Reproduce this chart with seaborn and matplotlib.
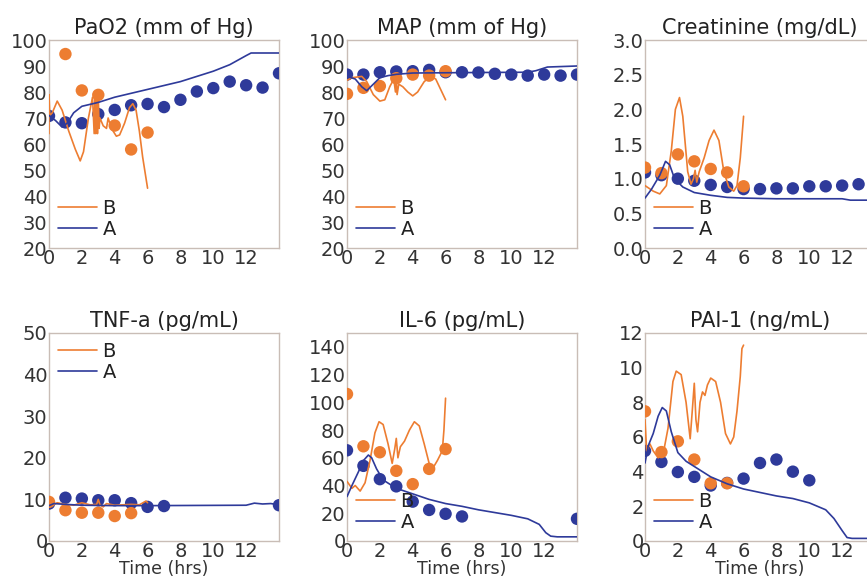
import numpy as np
import pandas as pd
import matplotlib
matplotlib.use("Agg")
import matplotlib.pyplot as plt
import seaborn as sns

sns.set_style("white")
plt.rcParams['font.family'] = ['DejaVu Sans']

ORANGE = "#ED7D31"
BLUE = "#2E3A9A"

titles = ["PaO2 (mm of Hg)", "MAP (mm of Hg)", "Creatinine (mg/dL)",
          "TNF-a (pg/mL)", "IL-6 (pg/mL)", "PAI-1 (ng/mL)"]
ylims = [(20, 100), (20, 100), (0, 3), (0, 50), (0, 150), (0, 12)]
yticks = [list(range(20, 101, 10)), list(range(20, 101, 10)),
          [0.0, 0.5, 1.0, 1.5, 2.0, 2.5, 3.0], list(range(0, 51, 10)),
          list(range(0, 141, 20)), list(range(0, 13, 2))]
xticks = [0, 2, 4, 6, 8, 10, 12]

# ---- measured points (dots) ----
dot_t_A = [list(range(15)), list(range(15)), list(range(15)),
           [0, 1, 2, 3, 4, 5, 6, 7, 14], [0, 1, 2, 3, 4, 5, 6, 7, 14],
           [0, 1, 2, 3, 4, 5, 6, 7, 8, 9, 10]]
dot_y_A = [
    [70.8, 68.3, 68.0, 71.5, 73.1, 74.9, 75.4, 74.2, 77.0, 80.2, 81.5, 84.0, 82.6, 81.7, 87.2],
    [86.7, 86.7, 87.6, 87.9, 88.0, 88.5, 87.6, 87.6, 87.5, 87.0, 86.7, 86.3, 86.7, 86.3, 86.7],
    [1.09, 1.05, 1.00, 0.97, 0.91, 0.88, 0.85, 0.85, 0.86, 0.86, 0.89, 0.89, 0.90, 0.92, 0.92],
    [9.0, 10.4, 10.2, 9.8, 9.8, 9.1, 8.2, 8.4, 8.6],
    [65.4, 54.2, 44.6, 39.4, 28.4, 22.4, 19.6, 17.7, 16.0],
    [5.2, 4.56, 3.98, 3.7, 3.2, 3.35, 3.6, 4.5, 4.7, 4.0, 3.5],
]
dot_t_B = [[1, 2, 3, 4, 5, 6], list(range(7)), list(range(7)),
           [0, 1, 2, 3, 4, 5], list(range(7)), [0, 1, 2, 3, 4, 5]]
dot_y_B = [
    [94.6, 80.6, 78.9, 67.1, 57.9, 64.4],
    [79.3, 81.6, 82.3, 85.3, 86.7, 86.3, 88.0],
    [1.16, 1.08, 1.35, 1.25, 1.14, 1.09, 0.89],
    [9.4, 7.4, 6.8, 6.8, 6.0, 6.7],
    [106, 68.3, 64.0, 50.6, 41.0, 52.0, 66.3],
    [7.48, 5.13, 5.75, 4.7, 3.33, 3.33],
]

# ---- model curves (lines) ----
line_t_A = [
    [0, 0.4, 0.8, 1.1, 1.5, 2.0, 3.0, 4.0, 5.0, 6.0, 7.0, 8.0, 9.0, 10.0, 11.0, 12.0, 12.3, 14.0],
    [0, 0.5, 0.9, 1.2, 1.6, 2.0, 2.5, 3.0, 4.0, 6.0, 8.0, 11.0, 11.5, 12.2, 14.0],
    [0, 0.4, 0.9, 1.25, 1.5, 1.8, 2.3, 3.0, 4.0, 5.0, 6.0, 8.0, 12.0, 12.5, 14.0],
    [0, 0.3, 1.0, 2.0, 4.0, 6.0, 12.0, 12.5, 13.0, 13.5, 14.0],
    [0, 0.3, 0.7, 1.0, 1.3, 1.5, 1.8, 2.2, 3.0, 4.0, 5.0, 6.0, 7.0, 8.0, 9.0, 10.0, 11.0, 11.7, 12.1, 12.4, 12.8, 14.0],
    [0, 0.2, 0.5, 0.8, 1.05, 1.3, 1.6, 2.0, 2.5, 3.0, 4.0, 5.0, 6.0, 7.0, 8.0, 9.0, 10.0, 11.0, 11.5, 12.0, 12.3, 12.6, 14.0],
]
line_y_A = [
    [71, 69, 66.5, 68, 72, 74.5, 76, 78, 79.5, 81, 82.5, 84, 86, 88, 90.5, 94, 95, 95],
    [86, 85, 82, 80.5, 83, 85.5, 86.3, 86.8, 87.3, 87.4, 87.5, 87.6, 88.2, 89.6, 90],
    [0.72, 0.85, 1.05, 1.25, 1.2, 1.0, 0.88, 0.8, 0.76, 0.73, 0.72, 0.71, 0.71, 0.69, 0.69],
    [8.5, 9.0, 8.8, 8.6, 8.5, 8.5, 8.6, 9.1, 8.9, 9.0, 8.7],
    [32, 40, 50, 58, 62, 60, 52, 44, 38, 34, 30, 27, 25, 22.5, 20.5, 18.5, 16, 12, 6, 3.5, 3, 3],
    [4.5, 5.5, 6.2, 7.2, 7.7, 7.5, 6.3, 5.1, 4.6, 4.3, 3.7, 3.3, 3.0, 2.8, 2.6, 2.45, 2.2, 1.8, 1.3, 0.6, 0.2, 0.15, 0.15],
]
line_t_B = [
    [0, 0, 0.05, 0.2, 0.5, 0.8, 1.2, 1.6, 1.9, 2.1, 2.4, 2.65, 2.75, 2.8, 2.85, 2.9, 2.95,
     3.0, 3.05, 3.1, 3.3, 3.5, 3.6, 3.8, 4.1, 4.3, 4.6, 4.9, 5.1, 5.3, 5.5, 5.7, 5.9, 6.0],
    [0, 0.3, 0.9, 1.2, 1.6, 2.0, 2.3, 2.6, 2.85, 2.95, 3.0, 3.05, 3.15, 3.4, 3.7, 4.0, 4.3,
     4.7, 5.1, 5.4, 5.7, 6.0],
    [0, 0.5, 0.9, 1.3, 1.6, 1.85, 2.1, 2.3, 2.6, 2.8, 2.95, 3.05, 3.15, 3.3, 3.6, 3.9, 4.2,
     4.5, 4.8, 5.1, 5.4, 5.6, 5.8, 6.0],
    [0, 0.2, 0.5, 1.0, 1.5, 2.0, 2.5, 2.9, 3.0, 3.1, 3.3, 3.5, 4.0, 4.5, 5.0, 5.5, 5.9, 6.0],
    [0, 0.3, 0.5, 0.8, 1.1, 1.4, 1.7, 1.95, 2.2, 2.5, 2.75, 2.9, 3.0, 3.1, 3.25, 3.5, 3.8,
     4.1, 4.4, 4.7, 5.0, 5.2, 5.5, 5.8, 5.9, 6.0],
    [0, 0.1, 0.3, 0.5, 0.8, 1.1, 1.4, 1.7, 1.9, 2.2, 2.5, 2.75, 2.9, 3.0, 3.1, 3.2, 3.35,
     3.5, 3.65, 3.8, 4.0, 4.3, 4.6, 4.9, 5.2, 5.4, 5.6, 5.8, 5.9, 6.0],
]
line_y_B = [
    [64, 79, 71, 72, 76.5, 73, 65, 58, 53.5, 57, 70, 78, 64, 79, 64, 79, 64,
     78, 66, 70, 67, 66, 70, 66, 63, 63.5, 68, 74, 75.5, 73, 65, 55, 47, 43],
    [84.5, 85.5, 86, 84, 79, 76.5, 77, 82, 85, 80, 85, 79, 83, 82, 80, 78.5, 80,
     84, 86, 85, 81, 77],
    [0.9, 0.82, 0.78, 0.9, 1.4, 2.0, 2.17, 1.9, 1.1, 0.92, 1.0, 1.12, 0.95, 1.1, 1.3, 1.55,
     1.7, 1.55, 1.1, 0.88, 0.82, 0.9, 1.3, 1.9],
    [9.5, 8.5, 9.2, 8.8, 8.6, 9.2, 8.7, 8.8, 10.0, 8.7, 8.2, 9.0, 8.6, 8.7, 8.8, 8.7, 9.6, 9.2],
    [43, 38, 40, 36, 42, 58, 78, 86, 84, 70, 56, 66, 74, 60, 68, 72, 80,
     86, 83, 70, 56, 52, 58, 65, 80, 103],
    [7.0, 5.2, 5.6, 5.2, 4.8, 5.0, 6.5, 9.2, 9.8, 9.6, 8.0, 5.9, 7.8, 9.1, 7.0, 6.3, 8.0,
     8.6, 8.4, 9.0, 9.4, 9.2, 8.0, 6.2, 5.6, 6.0, 7.5, 9.5, 11.1, 11.3],
]

legend_loc = ["lower left", "lower left", "lower left", "upper left", "lower left", "lower left"]

W, H = 867, 578
fig = plt.figure(figsize=(W / 100, H / 100), dpi=100)
lefts = [49, 347, 645]
tops = [40, 333]
aw, ah = 230, 208

for i in range(6):
    r, c = divmod(i, 3)
    ax = fig.add_axes([lefts[c] / W, 1 - (tops[r] + ah) / H, aw / W, ah / H])
    dA = pd.DataFrame({"t": dot_t_A[i], "y": dot_y_A[i]})
    dB = pd.DataFrame({"t": dot_t_B[i], "y": dot_y_B[i]})
    lA = pd.DataFrame({"t": line_t_A[i], "y": line_y_A[i]})
    lB = pd.DataFrame({"t": line_t_B[i], "y": line_y_B[i]})
    sns.scatterplot(data=dA, x="t", y="y", ax=ax, color=BLUE, s=80,
                    edgecolor="none", zorder=3)
    sns.scatterplot(data=dB, x="t", y="y", ax=ax, color=ORANGE, s=80,
                    edgecolor="none", zorder=4)
    sns.lineplot(data=lB, x="t", y="y", ax=ax, color=ORANGE, lw=1.2,
                 sort=False, estimator=None, label="B", zorder=5)
    sns.lineplot(data=lA, x="t", y="y", ax=ax, color=BLUE, lw=1.2,
                 sort=False, estimator=None, label="A", zorder=5)
    ax.set_xlim(0, 14)
    ax.set_ylim(*ylims[i])
    ax.set_xticks(xticks)
    ax.set_yticks(yticks[i])
    if i == 2:
        ax.set_yticklabels([f"{v:.1f}" for v in yticks[i]])
    ax.tick_params(length=0, pad=1, labelsize=14, colors="#333333")
    ax.set_title(titles[i], fontsize=15, color="#222222", pad=4)
    ax.set_ylabel("")
    if r == 1:
        ax.set_xlabel("Time (hrs)", fontsize=12.5, color="#333333", labelpad=-1)
    else:
        ax.set_xlabel("")
    for sp in ax.spines.values():
        sp.set_color("#c9bdb6")
        sp.set_linewidth(1.0)
    leg = ax.legend(loc=legend_loc[i], frameon=False, fontsize=14,
                    handlelength=2.0, handletextpad=0.3, labelspacing=0.12,
                    borderaxespad=0.15, borderpad=0.3)
    for t in leg.get_texts():
        t.set_color("#222222")

fig.savefig("out.png", dpi=100)
